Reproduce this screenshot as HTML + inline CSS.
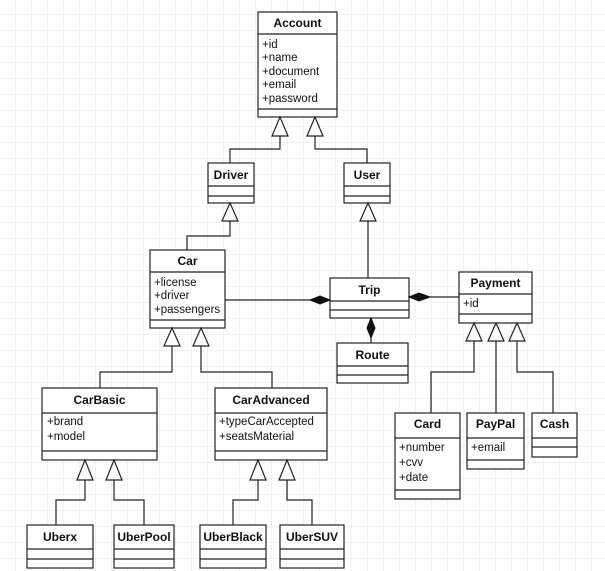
<!DOCTYPE html>
<html><head><meta charset="utf-8"><style>
html,body{margin:0;padding:0;background:#fff}
svg{display:block}
text{font-family:"Liberation Sans",Arial,sans-serif;font-size:11.5px;fill:#111}
.h{font-weight:bold;font-size:12px}
</style></head><body>
<svg width="605" height="571" viewBox="0 0 605 571" xmlns="http://www.w3.org/2000/svg">
<defs>
<pattern id="g" x="15.5" y="14" width="16" height="16" patternUnits="userSpaceOnUse">
<path d="M0 0H16M0 0V16" fill="none" stroke="#e4e4e4" stroke-width="1"/>
</pattern>
</defs>
<rect width="605" height="571" fill="#fff"/>
<rect width="605" height="571" fill="url(#g)"/>
<g fill="#fff" stroke="#222" stroke-width="1.2">
<!-- boxes -->
<rect x="258" y="12" width="79" height="105"/><line x1="258" y1="34" x2="337" y2="34"/><line x1="258" y1="109" x2="337" y2="109"/>
<rect x="208" y="163" width="46" height="40"/><line x1="208" y1="186" x2="254" y2="186"/><line x1="208" y1="196" x2="254" y2="196"/>
<rect x="344" y="163" width="46" height="40"/><line x1="344" y1="186" x2="390" y2="186"/><line x1="344" y1="196" x2="390" y2="196"/>
<rect x="150" y="250" width="75" height="78"/><line x1="150" y1="272" x2="225" y2="272"/><line x1="150" y1="320" x2="225" y2="320"/>
<rect x="330" y="278" width="79" height="40"/><line x1="330" y1="301" x2="409" y2="301"/><line x1="330" y1="310" x2="409" y2="310"/>
<rect x="459" y="272" width="73" height="51"/><line x1="459" y1="294" x2="532" y2="294"/><line x1="459" y1="314" x2="532" y2="314"/>
<rect x="337" y="343" width="71" height="40"/><line x1="337" y1="366" x2="408" y2="366"/><line x1="337" y1="375" x2="408" y2="375"/>
<rect x="42" y="388" width="115" height="72"/><line x1="42" y1="413" x2="157" y2="413"/><line x1="42" y1="451" x2="157" y2="451"/>
<rect x="215" y="388" width="112" height="72"/><line x1="215" y1="413" x2="327" y2="413"/><line x1="215" y1="451" x2="327" y2="451"/>
<rect x="27" y="525" width="66" height="43"/><line x1="27" y1="549" x2="93" y2="549"/><line x1="27" y1="559" x2="93" y2="559"/>
<rect x="114" y="525" width="60" height="43"/><line x1="114" y1="549" x2="174" y2="549"/><line x1="114" y1="559" x2="174" y2="559"/>
<rect x="200" y="525" width="66" height="43"/><line x1="200" y1="549" x2="266" y2="549"/><line x1="200" y1="559" x2="266" y2="559"/>
<rect x="280" y="525" width="64" height="43"/><line x1="280" y1="549" x2="344" y2="549"/><line x1="280" y1="559" x2="344" y2="559"/>
<rect x="395" y="413" width="65" height="86"/><line x1="395" y1="438" x2="460" y2="438"/><line x1="395" y1="490" x2="460" y2="490"/>
<rect x="467" y="413" width="57" height="56"/><line x1="467" y1="438" x2="524" y2="438"/><line x1="467" y1="460" x2="524" y2="460"/>
<rect x="532" y="413" width="45" height="44"/><line x1="532" y1="438" x2="577" y2="438"/><line x1="532" y1="447" x2="577" y2="447"/>
</g>
<g fill="none" stroke="#222" stroke-width="1.2">
<!-- connectors -->
<polyline points="280,136 280,149 230,149 230,163"/>
<polyline points="315,136 315,149 367,149 367,163"/>
<polyline points="230,221 230,236 187,236 187,250"/>
<line x1="368" y1="221" x2="368" y2="278"/>
<line x1="225" y1="300" x2="311" y2="300"/>
<line x1="430" y1="297" x2="459" y2="297"/>
<line x1="371" y1="338" x2="371" y2="343"/>
<polyline points="172,346 172,372 100,372 100,388"/>
<polyline points="201,346 201,372 272,372 272,388"/>
<polyline points="85,480 85,500 56,500 56,525"/>
<polyline points="114,480 114,500 144,500 144,525"/>
<polyline points="258,480 258,500 233,500 233,525"/>
<polyline points="287,480 287,500 312,500 312,525"/>
<polyline points="474,341 474,372 431,372 431,413"/>
<line x1="496" y1="341" x2="496" y2="413"/>
<polyline points="517,341 517,372 553,372 553,413"/>
</g>
<g fill="#fff" stroke="#222" stroke-width="1.2">
<!-- generalization triangles -->
<polygon points="280,117 272,136 288,136"/>
<polygon points="315,117 307,136 323,136"/>
<polygon points="230,203 222,221 238,221"/>
<polygon points="368,203 360,221 376,221"/>
<polygon points="172,328 164,346 180,346"/>
<polygon points="201,328 193,346 209,346"/>
<polygon points="85,460 77,480 93,480"/>
<polygon points="114,460 106,480 122,480"/>
<polygon points="258,460 250,480 266,480"/>
<polygon points="287,460 279,480 295,480"/>
<polygon points="474,323 466,341 482,341"/>
<polygon points="496,323 488,341 504,341"/>
<polygon points="517,323 509,341 525,341"/>
</g>
<g fill="#111" stroke="#111" stroke-width="1">
<polygon points="330,300 320,296 310,300 320,304"/>
<polygon points="409,297 419,293 430,297 419,301"/>
<polygon points="371,318 375,328 371,338 367,328"/>
</g>
<g>
<text class="h" x="297.5" y="27" text-anchor="middle">Account</text>
<text x="262" y="48">+id</text><text x="262" y="61">+name</text><text x="262" y="75">+document</text><text x="262" y="88">+email</text><text x="262" y="102">+password</text>
<text class="h" x="231" y="179" text-anchor="middle">Driver</text>
<text class="h" x="367" y="179" text-anchor="middle">User</text>
<text class="h" x="187.5" y="265" text-anchor="middle">Car</text>
<text x="154" y="286">+license</text><text x="154" y="299">+driver</text><text x="154" y="313">+passengers</text>
<text class="h" x="369.5" y="294" text-anchor="middle">Trip</text>
<text class="h" x="495.5" y="287" text-anchor="middle">Payment</text>
<text x="463" y="307">+id</text>
<text class="h" x="372.5" y="359" text-anchor="middle">Route</text>
<text class="h" x="99.5" y="404" text-anchor="middle">CarBasic</text>
<text x="47" y="425">+brand</text><text x="47" y="440">+model</text>
<text class="h" x="271" y="404" text-anchor="middle">CarAdvanced</text>
<text x="219" y="425">+typeCarAccepted</text><text x="219" y="440">+seatsMaterial</text>
<text class="h" x="60" y="541" text-anchor="middle">Uberx</text>
<text class="h" x="144" y="541" text-anchor="middle">UberPool</text>
<text class="h" x="233" y="541" text-anchor="middle">UberBlack</text>
<text class="h" x="312" y="541" text-anchor="middle">UberSUV</text>
<text class="h" x="427.5" y="428" text-anchor="middle">Card</text>
<text x="399" y="451">+number</text><text x="399" y="466">+cvv</text><text x="399" y="481">+date</text>
<text class="h" x="495.5" y="428" text-anchor="middle">PayPal</text>
<text x="471" y="451">+email</text>
<text class="h" x="554.5" y="428" text-anchor="middle">Cash</text>
</g>
</svg>
</body></html>
